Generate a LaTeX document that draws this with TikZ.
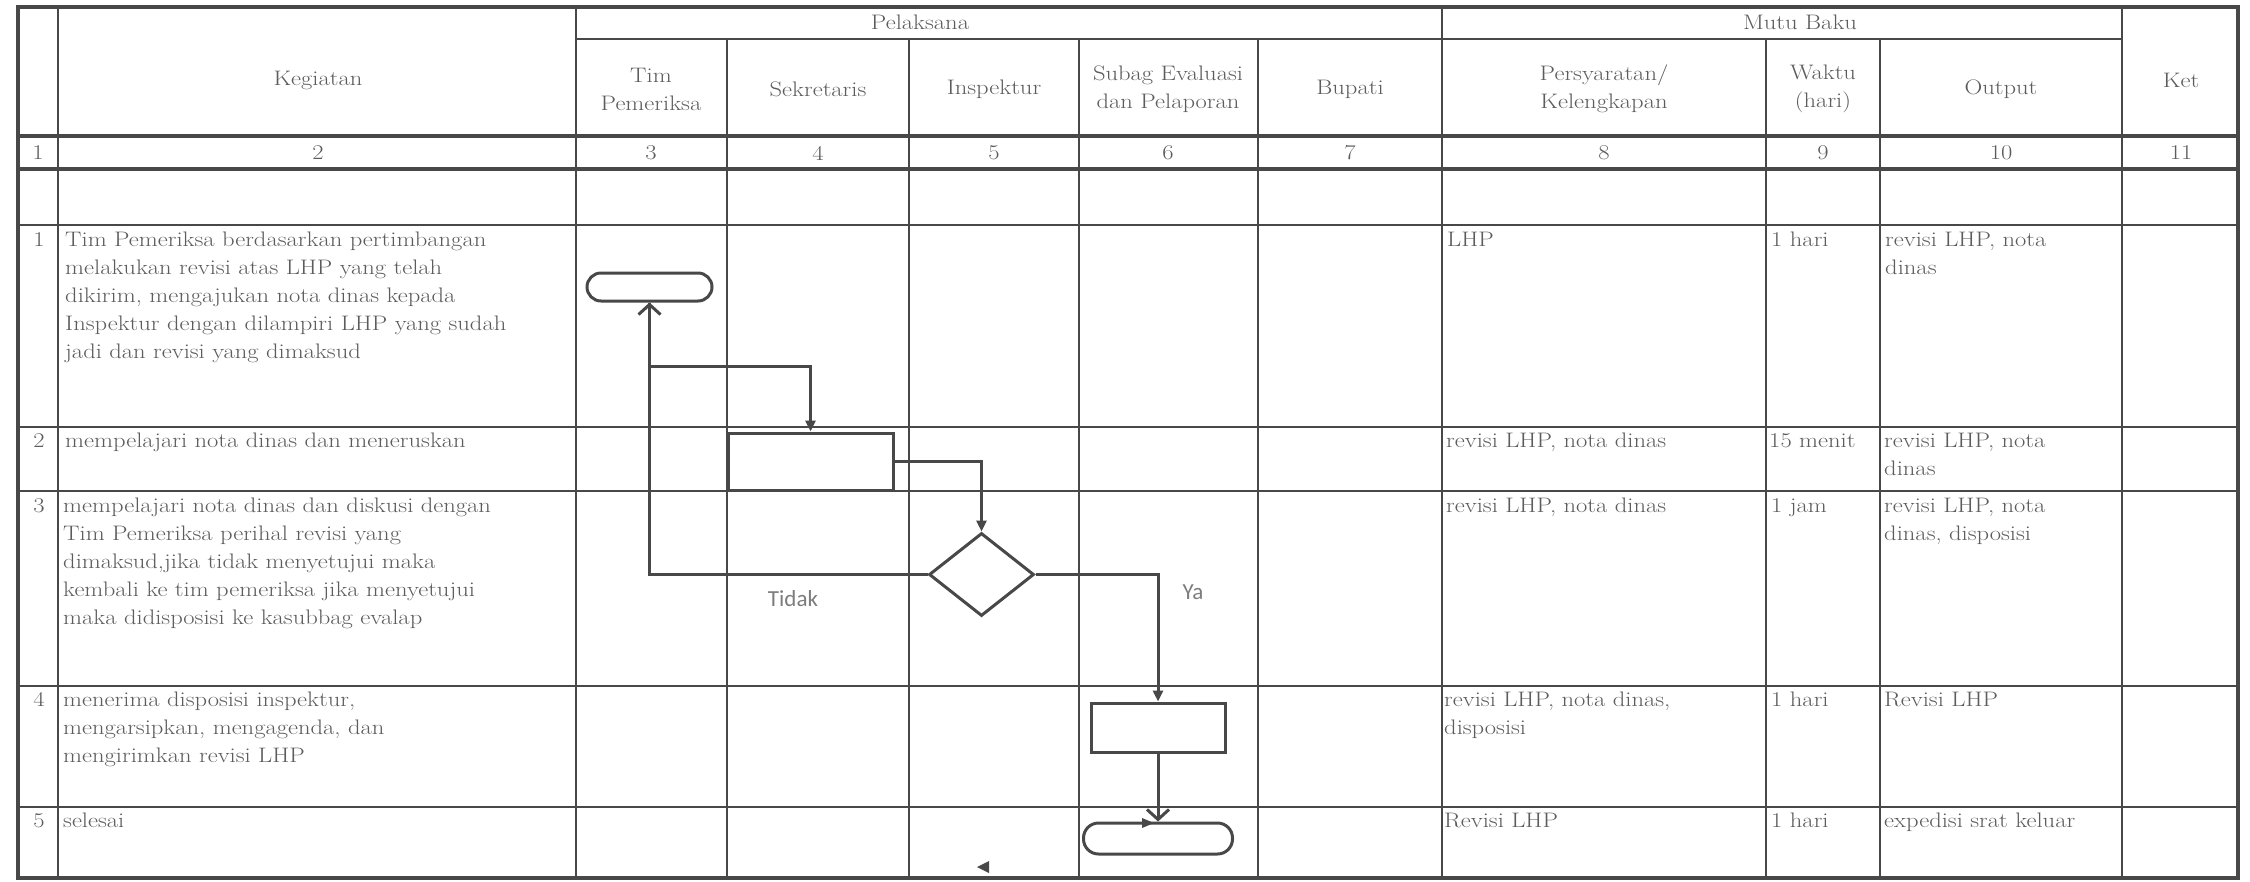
\documentclass[tikz,border=0pt]{standalone}
\usepackage{fontspec}
\setmainfont{Latin Modern Roman}[FakeStretch=1.17]
\newfontfamily\calfont{Carlito}
\usetikzlibrary{arrows.meta,shapes.geometric}
\definecolor{ink}{RGB}{72,72,72}
\definecolor{txt}{RGB}{92,92,92}
\definecolor{lbl}{RGB}{125,125,125}
\tikzset{
  gridline/.style={draw=ink, line width=2pt},
  heavyline/.style={draw=ink, line width=3.5pt},
  border/.style={draw=ink, line width=4pt},
  cell/.style={anchor=north west, inner sep=0pt, align=left, text=txt,
               font=\fontsize{21}{28}\selectfont},
  numcell/.style={anchor=north, inner sep=0pt, text=txt,
               font=\fontsize{21}{28}\selectfont},
  hdr/.style={inner sep=0pt, align=center, text=txt,
               font=\fontsize{21}{28}\selectfont},
  proc/.style={draw=ink, line width=3pt, rectangle, inner sep=0pt},
  term/.style={draw=ink, line width=3pt, rectangle, inner sep=0pt},
  dec/.style={draw=ink, line width=3pt, diamond, inner sep=0pt},
  flow/.style={draw=ink, line width=3pt},
  tri/.style={-{Triangle[length=11pt,width=10pt]}},
  barb/.style={-{Straight Barb[length=10pt,width=22pt]}},
  lab/.style={text=lbl, inner sep=0pt, font=\calfont\fontsize{23}{28}\selectfont}
}
\begin{document}
\begin{tikzpicture}[x=1pt,y=-1pt]
\useasboundingbox (0,0) rectangle (2250,881);
\fill[white] (0,0) rectangle (2250,881);
% ---------- table lines ----------
\foreach \yy in {225,427,491,686,807} \draw[gridline] (18,\yy) -- (2238,\yy);
\draw[gridline] (576,39) -- (2122,39);
\draw[heavyline] (18,136) -- (2238,136);
\draw[heavyline] (18,169) -- (2238,169);
\foreach \xx in {58,576,1442,2122} \draw[gridline] (\xx,7) -- (\xx,878);
\foreach \xx in {727,909,1079,1258,1766,1880} \draw[gridline] (\xx,39) -- (\xx,878);
\draw[border] (18,7) rectangle (2238,878);
% ---------- header ----------
\node[hdr] (hPel) at (920,22) {Pelaksana};
\node[hdr] (hMutu) at (1800,22) {Mutu Baku};
\node[hdr] (hKeg) at (318,80) {Kegiatan};
\node[hdr] (hKet) at (2181,80) {Ket};
\node[hdr] (hTim) at (651,89) {Tim\\Pemeriksa};
\node[hdr] (hSek) at (818,89) {Sekretaris};
\node[hdr] (hIns) at (994,89) {Inspektur};
\node[hdr] (hSub) at (1168,89) {Subag Evaluasi\\dan Pelaporan};
\node[hdr] (hBup) at (1350,89) {Bupati};
\node[hdr] (hPer) at (1604,89) {Persyaratan/\\Kelengkapan};
\node[hdr] (hWak) at (1823,89) {Waktu\\(hari)};
\node[hdr] (hOut) at (2001,89) {Output};
% numbers row
\node[hdr] (n1) at (38,153) {1};
\node[hdr] (n2) at (318,153) {2};
\node[hdr] (n3) at (651,153) {3};
\node[hdr] (n4) at (818,153) {4};
\node[hdr] (n5) at (994,153) {5};
\node[hdr] (n6) at (1168,153) {6};
\node[hdr] (n7) at (1350,153) {7};
\node[hdr] (n8) at (1604,153) {8};
\node[hdr] (n9) at (1823,153) {9};
\node[hdr] (n10) at (2001,153) {10};
\node[hdr] (n11) at (2181,153) {11};
% ---------- body rows ----------
% row 1
\node[numcell] (r1n) at (39,232) {1};
\node[cell] (r1k) at (65,232) {Tim Pemeriksa berdasarkan pertimbangan\\melakukan revisi atas LHP yang telah\\dikirim, mengajukan nota dinas kepada\\Inspektur dengan dilampiri LHP yang sudah\\jadi dan revisi yang dimaksud};
\node[cell] (r1p) at (1447,232) {LHP};
\node[cell] (r1w) at (1771,232) {1 hari};
\node[cell] (r1o) at (1885,232) {revisi LHP, nota\\dinas};
% row 2
\node[numcell] (r2n) at (39,433) {2};
\node[cell] (r2k) at (65,433) {mempelajari nota dinas dan meneruskan};
\node[cell] (r2p) at (1446,433) {revisi LHP, nota dinas};
\node[cell] (r2w) at (1769,433) {15 menit};
\node[cell] (r2o) at (1884,433) {revisi LHP, nota\\dinas};
% row 3
\node[numcell] (r3n) at (39,498) {3};
\node[cell] (r3k) at (63,498) {mempelajari nota dinas dan diskusi dengan\\Tim Pemeriksa perihal revisi yang\\dimaksud,jika tidak menyetujui maka\\kembali ke tim pemeriksa jika menyetujui\\maka didisposisi ke kasubbag evalap};
\node[cell] (r3p) at (1446,498) {revisi LHP, nota dinas};
\node[cell] (r3w) at (1771,498) {1 jam};
\node[cell] (r3o) at (1884,498) {revisi LHP, nota\\dinas, disposisi};
% row 4
\node[numcell] (r4n) at (39,692) {4};
\node[cell] (r4k) at (63,692) {menerima disposisi inspektur,\\mengarsipkan, mengagenda, dan\\mengirimkan revisi LHP};
\node[cell] (r4p) at (1444,692) {revisi LHP, nota dinas,\\disposisi};
\node[cell] (r4w) at (1771,692) {1 hari};
\node[cell] (r4o) at (1884,692) {Revisi LHP};
% row 5
\node[numcell] (r5n) at (39,813) {5};
\node[cell] (r5k) at (63,813) {selesai};
\node[cell] (r5p) at (1444,813) {Revisi LHP};
\node[cell] (r5w) at (1771,813) {1 hari};
\node[cell] (r5o) at (1884,813) {expedisi srat keluar};
% ---------- flow shapes ----------
\node[term, rounded corners=14pt, minimum width=125pt, minimum height=28pt] (start) at (649.5,287) {};
\node[proc, minimum width=165pt, minimum height=57pt] (sek) at (810.5,461.5) {};
\node[dec, minimum width=105pt, minimum height=83pt] (decide) at (981.5,574.5) {};
\node[proc, minimum width=134pt, minimum height=49pt] (subag) at (1158,727.5) {};
\node[term, rounded corners=15pt, minimum width=149pt, minimum height=31pt] (fin) at (1158,838.5) {};
% ---------- connectors ----------
\coordinate (j1) at (810.5,366);
\draw[flow,tri] (start.south) |- (j1) -- (sek.north);
\draw[flow,tri] (sek.east) -| (decide.north);
\draw[flow,barb] (decide.west) -| (start.south);
\draw[flow,tri] (decide.east) -| (subag.north);
\draw[flow,barb] (subag.south) -- (fin.north);
% small marks
\fill[ink] (1142,818) -- (1154,823) -- (1142,828) -- cycle;
\fill[ink] (989,861) -- (977,867) -- (989,873) -- cycle;
% labels
\node[lab] (tidak) at (793,599) {Tidak};
\node[lab] (ya) at (1193,592) {Ya};
\end{tikzpicture}
\end{document}
